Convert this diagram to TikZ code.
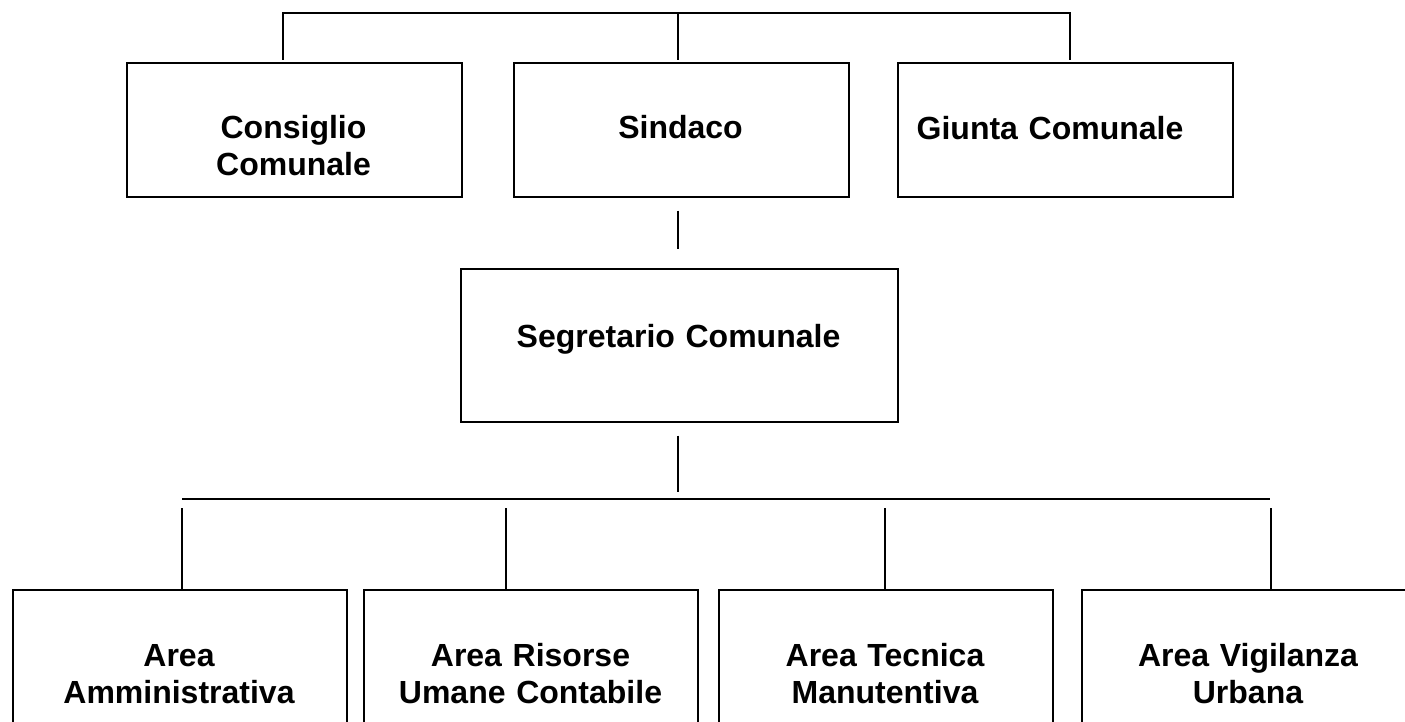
\documentclass[tikz,border=0pt]{standalone}
\usepackage{fontspec}
\setmainfont{Liberation Sans}
\begin{document}
\begin{tikzpicture}[x=0.5pt,y=-0.5pt,
  box/.style={draw, line width=0.85pt, inner sep=0pt, anchor=north west},
  topbox/.style={box, minimum width=167.5pt, minimum height=67pt},
  lowbox/.style={box, minimum width=167pt, minimum height=100pt},
  lbl/.style={anchor=base, align=center, text width=165pt, inner sep=0pt,
    font=\fontsize{16}{18.5}\selectfont\bfseries},
  conn/.style={line width=0.85pt}]
\useasboundingbox (0,0) rectangle (1405,722);
\clip (0,0) rectangle (1405,722);
% top row
\node[topbox] (cc)  at (126,62) {};
\node[topbox] (sin) at (513,62) {};
\node[topbox] (gc)  at (897,62) {};
\node[lbl] (tcc)  at (293.5,139) {Consiglio\\Comunale};
\node[lbl] (tsin) at (680.5,139) {Sindaco};
\node[lbl] (tgc)  at (1050,140) {Giunta Comunale};
% middle
\node[box, minimum width=218.5pt, minimum height=76.5pt] (sg) at (460,268) {};
\node[lbl] (tsg) at (678.5,347) {Segretario Comunale};
% bottom row
\node[lowbox] (a1) at (12,589) {};
\node[lowbox] (a2) at (363,589) {};
\node[lowbox] (a3) at (718,589) {};
\node[lowbox] (a4) at (1081,589) {};
\node[lbl] (ta1) at (179,666) {Area\\Amministrativa};
\node[lbl] (ta2) at (530.5,666) {Area Risorse\\Umane Contabile};
\node[lbl] (ta3) at (885,666) {Area Tecnica\\Manutentiva};
\node[lbl] (ta4) at (1248,666) {Area Vigilanza\\Urbana};
% top bus
\coordinate (bL) at (283,13);
\coordinate (bM) at (678,13);
\coordinate (bR) at (1070,13);
\draw[conn, shorten <=1pt, shorten >=1pt] (bL |- cc.north) -- (bL) -- (bR) -- (bR |- gc.north);
\draw[conn, shorten >=1pt] (bM) -- (bM |- sin.north);
% sindaco - segretario
\draw[conn, shorten <=6.5pt, shorten >=9.5pt] (bM |- sin.south) -- (bM |- sg.north);
% lower bus
\coordinate (busL) at (182,499);
\coordinate (busR) at (1270,499);
\draw[conn, shorten <=6.5pt, shorten >=3.5pt] (bM |- sg.south) -- (bM |- busL);
\draw[conn] (busL) -- (busR);
\coordinate (d1) at (182,508);
\coordinate (d2) at (506,508);
\coordinate (d3) at (885,508);
\coordinate (d4) at (1271,508);
\draw[conn] (d1) -- (d1 |- a1.north);
\draw[conn] (d2) -- (d2 |- a2.north);
\draw[conn] (d3) -- (d3 |- a3.north);
\draw[conn] (d4) -- (d4 |- a4.north);
\end{tikzpicture}
\end{document}
